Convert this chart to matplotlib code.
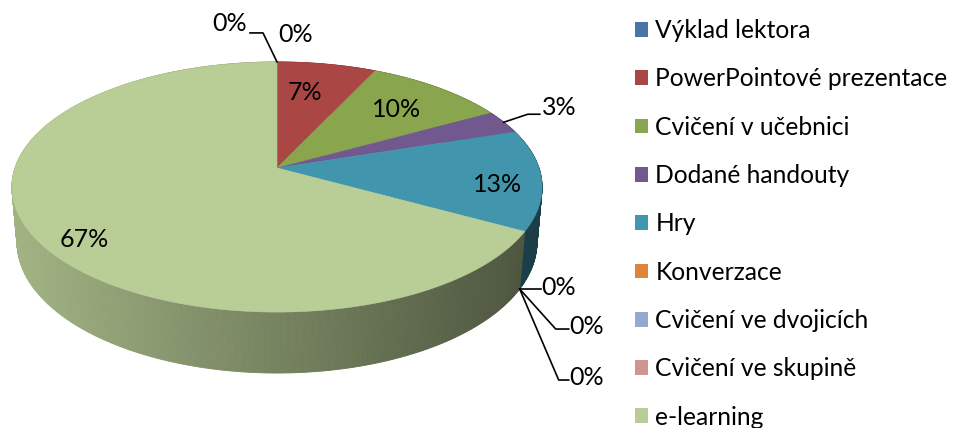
import numpy as np
import matplotlib
matplotlib.use('Agg')
import matplotlib.pyplot as plt
from matplotlib.patches import Polygon, Patch

plt.rcParams['font.family'] = ['Lato', 'DejaVu Sans']

categories = ['Výklad lektora', 'PowerPointové prezentace', 'Cvičení v učebnici',
              'Dodané handouty', 'Hry', 'Konverzace', 'Cvičení ve dvojicích',
              'Cvičení ve skupině', 'e-learning']
# last slice is a 10th category whose legend entry is cut off in the original
values = [0, 7, 10, 3, 13, 0, 0, 0, 67, 0]
labels = ['0%', '7%', '10%', '3%', '13%', '0%', '0%', '0%', '67%', '0%']

legend_colors = ['#4a73a9', '#a94644', '#8aa54f', '#71588f', '#4197ad',
                 '#de853a', '#93a9cf', '#d29493', '#b9cc96']
top_colors = ['#4a73a9', '#aa4644', '#89a54e', '#71588f', '#4196ad',
              '#de853a', '#93a9cf', '#d29493', '#b9cd96', '#b9cd96']

# simple perspective camera for the 3d pie (pixel space)
cx, cy, R = 277, 168, 262
elev = np.radians(27.8)
se, ce = np.sin(elev), np.cos(elev)
D = 5.82
H = 0.24


def proj(theta, r, z):
    t = np.radians(theta)
    X = r * np.sin(t)
    Y = r * np.cos(t)
    f = D / (D + Y * ce - z * se)
    return cx + X * f * R, cy - (Y * se + z * ce) * f * R


fig = plt.figure(figsize=(9.54, 4.28), dpi=100)
ax = fig.add_axes([0, 0, 1, 1])
ax.set_xlim(0, 954)
ax.set_ylim(428, 0)
ax.axis('off')

total = float(sum(values))
bounds = np.concatenate([[0], np.cumsum(values)]) / total * 360.0

# side wall, drawn back to front
strips = []
for i, v in enumerate(values):
    if v == 0:
        continue
    a0, a1 = bounds[i], bounds[i + 1]
    n = max(int((a1 - a0) / 0.5), 2)
    th = np.linspace(a0, a1, n + 1)
    for k in range(n):
        t0, t1 = th[k], th[k + 1]
        depth = np.cos(np.radians((t0 + t1) / 2))
        strips.append((depth, i, t0, t1))
strips.sort(key=lambda s: -s[0])
for depth, i, t0, t1 in strips:
    pts = [proj(t0, 1, 0), proj(t1, 1, 0), proj(t1, 1, -H), proj(t0, 1, -H)]
    xm = np.mean([p[0] for p in pts])
    shade = 0.88 - 0.48 * np.clip((xm - 10) / 533.0, 0, 1)
    base = np.array(matplotlib.colors.to_rgb(top_colors[i]))
    col = base * shade
    ax.add_patch(Polygon(pts, closed=True, facecolor=col, edgecolor=col, lw=0.6))

# top faces
apex = proj(0, 0, 0)
for i, v in enumerate(values):
    if v == 0:
        continue
    th = np.linspace(bounds[i], bounds[i + 1], 200)
    pts = [apex] + [proj(t, 1, 0) for t in th]
    ax.add_patch(Polygon(pts, closed=True, facecolor=top_colors[i],
                         edgecolor=top_colors[i], lw=0.4))

fs = 18
# inside labels: radius along the bisector plus a small nudge in pixels
inside = {1: (0.74, -10, 4), 2: (0.76, -6, 4), 4: (0.86, -7, 6), 8: (0.86, 15, 14)}
for i, (r, dx, dy) in inside.items():
    mid = (bounds[i] + bounds[i + 1]) / 2
    x, y = proj(mid, r, 0)
    ax.text(x + dx, y + dy, labels[i], fontsize=fs, ha='center', va='center')

# outside labels with leader lines
lk = dict(color='black', lw=1.2)
# 3%
mid = (bounds[3] + bounds[4]) / 2
x0, y0 = proj(mid, 1, 0)
ax.plot([x0, x0 + 24, x0 + 36], [y0, y0 - 8, y0 - 8], **lk)
ax.text(x0 + 38, y0 - 15, labels[3], fontsize=fs, ha='left', va='center')
# zero at the top (first slice)
x0, y0 = proj(bounds[0], 1, 0)
ax.text(x0 + 1, y0 - 27, labels[0], fontsize=fs, ha='left', va='center')
# zero at the top (last slice)
ax.plot([x0, x0 - 14, x0 - 27], [y0, y0 - 29, y0 - 29], **lk)
ax.text(x0 - 30, y0 - 38, labels[9], fontsize=fs, ha='right', va='center')
# zeros at the bottom right
x0, y0 = proj(bounds[5], 1, -H)
ax.plot([x0, x0 + 21], [y0, y0], **lk)
ax.text(x0 + 22, y0 - 2, labels[5], fontsize=fs, ha='left', va='center')
ax.plot([x0, x0 + 36, x0 + 49], [y0, y0 + 40, y0 + 40], **lk)
ax.text(x0 + 50, y0 + 37, labels[6], fontsize=fs, ha='left', va='center')
ax.plot([x0, x0 + 39, x0 + 49], [y0, y0 + 91, y0 + 91], **lk)
ax.text(x0 + 50, y0 + 88, labels[7], fontsize=fs, ha='left', va='center')

handles = [Patch(facecolor=c, edgecolor='none') for c in legend_colors]
leg = ax.legend(handles, categories, loc='upper left', bbox_to_anchor=(0.650, 0.99),
                frameon=False, fontsize=17.7, handlelength=0.55, handleheight=0.55,
                handletextpad=0.28, labelspacing=1.03, borderaxespad=0.2)

fig.savefig('out.png', dpi=100)
